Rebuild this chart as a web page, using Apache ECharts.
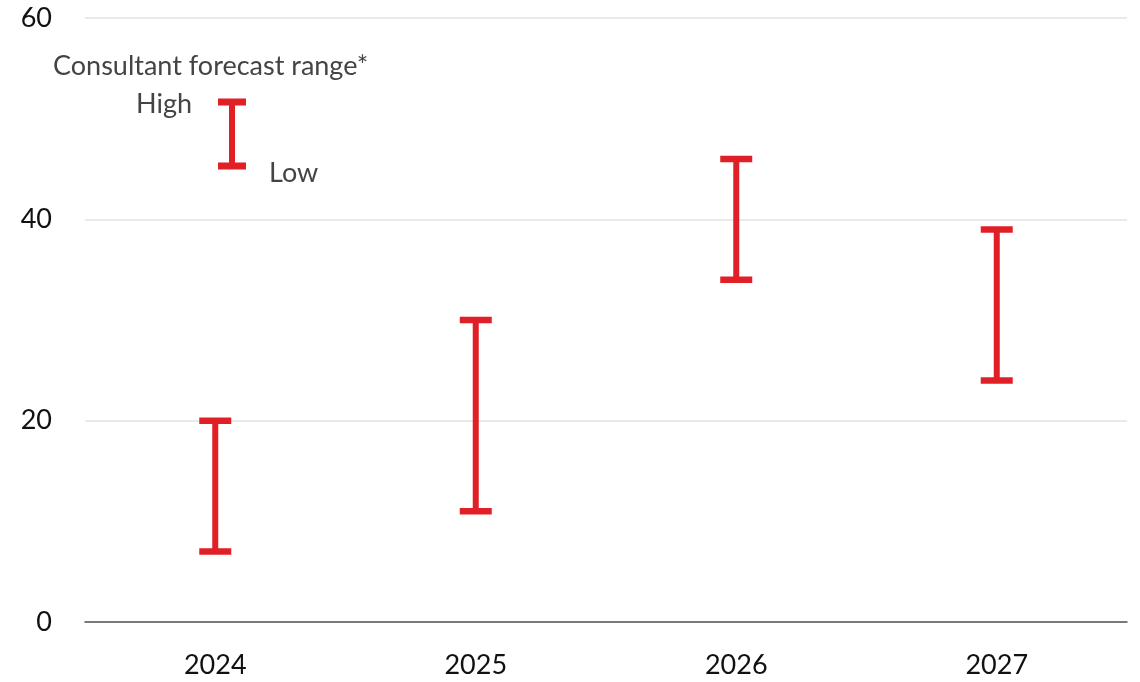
<!DOCTYPE html>
<html>
<head>
<meta charset="utf-8">
<script src="https://cdn.jsdelivr.net/npm/echarts@6/dist/echarts.min.js"></script>
<style>html,body{margin:0;padding:0;background:#fff;}#c{width:1140px;height:682px;}</style>
</head>
<body>
<div id="c"></div>
<script>
const categories = ['2024', '2025', '2026', '2027'];
const lowValues = [7, 11, 34, 24];
const highValues = [20, 30, 46, 39];
const yTicks = [0, 20, 40, 60];

const RED = '#e11f26';
const FONT = 'Lato, "Noto Sans", sans-serif';

const chart = echarts.init(document.getElementById('c'));
const data = categories.map((c, i) => [i, lowValues[i], highValues[i]]);

chart.setOption({
  animation: false,
  grid: { left: 85, right: 13, top: 18, bottom: 60 },
  xAxis: {
    type: 'category',
    data: categories,
    axisLine: { show: true, lineStyle: { color: '#555', width: 1.5 } },
    axisTick: { show: false },
    axisLabel: { color: '#111', fontSize: 27, fontFamily: FONT, margin: 30 },
    splitLine: { show: false }
  },
  yAxis: {
    type: 'value',
    min: yTicks[0],
    max: yTicks[yTicks.length - 1],
    interval: 20,
    axisLine: { show: false },
    axisTick: { show: false },
    axisLabel: { color: '#111', fontSize: 27, fontFamily: FONT, margin: 33 },
    splitLine: { lineStyle: { color: '#e3e3e3', width: 1.5 } }
  },
  series: [{
    type: 'custom',
    data: data,
    encode: { x: 0, y: [1, 2] },
    renderItem: function (params, api) {
      const x = api.value(0);
      const lo = api.coord([x, api.value(1)]);
      const hi = api.coord([x, api.value(2)]);
      const half = 16;
      return {
        type: 'group',
        children: [
          { type: 'line', shape: { x1: lo[0], y1: lo[1], x2: hi[0], y2: hi[1] }, style: { stroke: RED, lineWidth: 6 } },
          { type: 'line', shape: { x1: hi[0] - half, y1: hi[1], x2: hi[0] + half, y2: hi[1] }, style: { stroke: RED, lineWidth: 6.5 } },
          { type: 'line', shape: { x1: lo[0] - half, y1: lo[1], x2: lo[0] + half, y2: lo[1] }, style: { stroke: RED, lineWidth: 6.5 } }
        ]
      };
    }
  }],
  graphic: [
    { type: 'text', style: { x: 53, y: 66, text: 'Consultant forecast range*', fill: '#444', fontSize: 27, fontFamily: FONT, verticalAlign: 'middle', align: 'left' } },
    { type: 'text', style: { x: 192, y: 104, text: 'High', fill: '#444', fontSize: 27, fontFamily: FONT, verticalAlign: 'middle', align: 'right' } },
    { type: 'text', style: { x: 269, y: 173, text: 'Low', fill: '#444', fontSize: 27, fontFamily: FONT, verticalAlign: 'middle', align: 'left' } },
    { type: 'line', shape: { x1: 232, y1: 102, x2: 232, y2: 166 }, style: { stroke: RED, lineWidth: 6 } },
    { type: 'line', shape: { x1: 218, y1: 102, x2: 246, y2: 102 }, style: { stroke: RED, lineWidth: 7 } },
    { type: 'line', shape: { x1: 218, y1: 166, x2: 246, y2: 166 }, style: { stroke: RED, lineWidth: 7 } }
  ]
});
</script>
</body>
</html>
